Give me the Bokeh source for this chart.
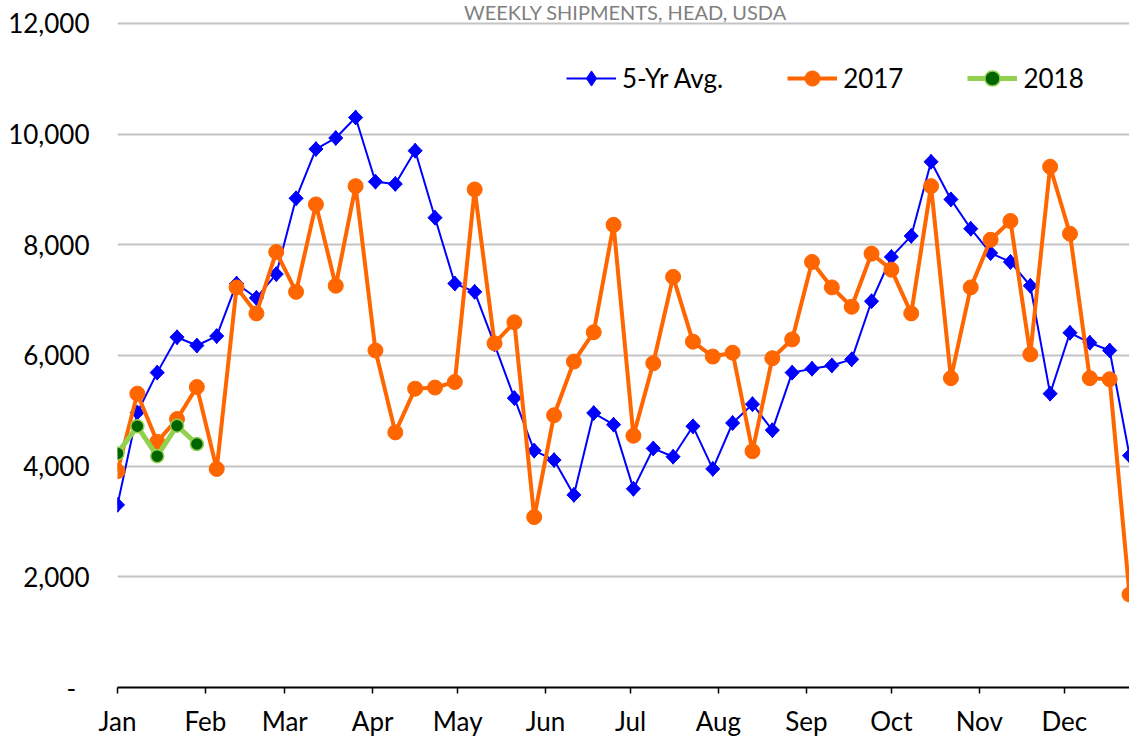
import numpy as np
from bokeh.plotting import figure
from bokeh.models import (Range1d, FixedTicker, Legend, LegendItem, Label,
                          ColumnDataSource, NumeralTickFormatter)
from bokeh.embed import file_html
from bokeh.resources import INLINE

# ---------------- data ----------------
weeks = list(range(1, 53))
avg5 = [3300, 4970, 5690, 6330, 6180, 6350, 7300, 7040, 7470, 8840,
        9730, 9930, 10300, 9140, 9100, 9700, 8490, 7300, 7150, 6200,
        5230, 4280, 4110, 3480, 4960, 4750, 3590, 4320, 4170, 4720,
        3950, 4780, 5120, 4650, 5690, 5760, 5820, 5930, 6980, 7780,
        8160, 9500, 8820, 8290, 7850, 7690, 7260, 5310, 6410, 6230,
        6090, 4190]
y2017 = [3910, 5310, 4440, 4850, 5430, 3950, 7230, 6760, 7870, 7150,
         8730, 7260, 9060, 6090, 4610, 5400, 5420, 5520, 9000, 6220,
         6600, 3080, 4920, 5890, 6420, 8360, 4550, 5860, 7420, 6250,
         5980, 6050, 4270, 5950, 6290, 7690, 7230, 6880, 7840, 7550,
         6760, 9060, 5590, 7230, 8090, 8430, 6020, 9410, 8200, 5590,
         5570, 1680]
weeks_2018 = [1, 2, 3, 4, 5]
y2018 = [4230, 4720, 4180, 4730, 4400]

months = ["Jan", "Feb", "Mar", "Apr", "May", "Jun",
          "Jul", "Aug", "Sep", "Oct", "Nov", "Dec"]
month_start_day = [0, 31, 59, 90, 120, 151, 181, 212, 243, 273, 304, 334]
y_ticks = [0, 2000, 4000, 6000, 8000, 10000, 12000]
title_text = "WEEKLY SHIPMENTS, HEAD, USDA"
series_names = ["5-Yr Avg.", "2017", "2018"]

FONT = "Lato"
FS = "26px"
BLUE = "#0000FF"
ORANGE = "#FF6600"
LGREEN = "#92D050"
DGREEN = "#006400"

day = [(w - 1) * 7 for w in weeks]
day18 = [(w - 1) * 7 for w in weeks_2018]

src = ColumnDataSource(dict(day=day, avg5=avg5, y2017=y2017))
src18 = ColumnDataSource(dict(day=day18, y2018=y2018))

# frame spans the full height above the axis so the title area is inside it;
# the y scale keeps 12,000 at 23px from the top (666px per 12,000)
Y_TOP = 12000 * 689 / 666

p = figure(width=1129, height=739, output_backend="svg", toolbar_location=None,
           x_range=Range1d(0, 357), y_range=Range1d(0, Y_TOP),
           min_border_left=117, min_border_right=0, min_border_top=0,
           min_border_bottom=50)
p.outline_line_color = None
p.background_fill_color = "white"
p.border_fill_color = "white"

# axes
xa = p.xaxis[0]
xa.ticker = FixedTicker(ticks=month_start_day)
xa.major_label_overrides = {d: m for d, m in zip(month_start_day, months)}
xa.axis_line_color = "black"
xa.axis_line_width = 2
xa.major_tick_out = 6
xa.major_tick_in = 0
xa.major_tick_line_color = "black"
xa.major_tick_line_width = 1.5
xa.minor_tick_line_color = None
xa.major_label_standoff = 11
xa.major_label_text_font = FONT
xa.major_label_text_font_size = FS
xa.major_label_text_color = "black"

ya = p.yaxis[0]
ya.ticker = FixedTicker(ticks=y_ticks)
ya.formatter = NumeralTickFormatter(format="0,0")
ya.major_label_overrides = {0: "-\u00a0\u00a0"}
ya.axis_line_color = None
ya.major_tick_line_color = None
ya.minor_tick_line_color = None
ya.major_tick_out = 0
ya.major_tick_in = 0
ya.major_label_standoff = 28
ya.major_label_text_font = FONT
ya.major_label_text_font_size = FS
ya.major_label_text_color = "black"

p.xgrid.grid_line_color = None
p.ygrid.grid_line_color = "#c4c4c4"
p.ygrid.grid_line_width = 2

# 5-yr average
r_avg_line = p.line("day", "avg5", source=src, line_color=BLUE, line_width=2)
r_avg_leg = p.scatter("day", "avg5", source=src, marker="diamond", size=15,
                      fill_color=BLUE, line_color=BLUE)
r_avg_pts = p.scatter("day", "avg5", source=src, marker="square", angle=np.pi / 4,
                      size=10, fill_color=BLUE, line_color=BLUE, line_width=1)

# 2017
r17_line = p.line("day", "y2017", source=src, line_color=ORANGE, line_width=4)
r17_pts = p.scatter("day", "y2017", source=src, marker="circle", size=15,
                    fill_color=ORANGE, line_color=ORANGE, line_width=1)

# 2018
r18_line = p.line("day", "y2018", source=src18, line_color=LGREEN, line_width=5)
r18_pts = p.scatter("day", "y2018", source=src18, marker="circle", size=13,
                    fill_color=DGREEN, line_color=LGREEN, line_width=1.5)

legend = Legend(items=[
    LegendItem(label=series_names[0], renderers=[r_avg_line, r_avg_leg]),
    LegendItem(label=series_names[1], renderers=[r17_line, r17_pts]),
    LegendItem(label=series_names[2], renderers=[r18_line, r18_pts]),
], orientation="horizontal", location=(449, 590), glyph_width=50, glyph_height=38,
    label_standoff=6, spacing=64, padding=0, margin=0,
    border_line_color=None, background_fill_alpha=0,
    label_text_font=FONT, label_text_font_size=FS, label_text_color="black")
p.add_layout(legend)

p.add_layout(Label(x=508, y=688, x_units="screen", y_units="screen",
                   text=title_text, text_align="center", text_baseline="top",
                   text_color="#7f7f7f", text_font=FONT, text_font_size="20px"))

open("out.html", "w").write(file_html(p, INLINE))
